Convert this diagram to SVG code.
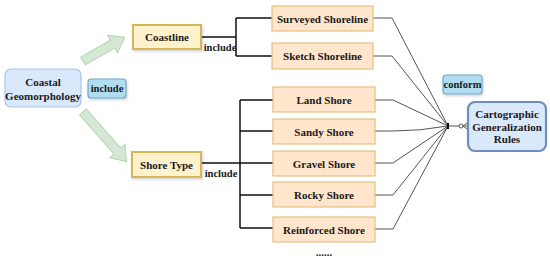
<svg xmlns="http://www.w3.org/2000/svg" width="550" height="261" viewBox="0 0 550 261" font-family="'Liberation Serif', 'DejaVu Serif', serif">
<defs>
<style>
text{font-family:'Liberation Serif','DejaVu Serif',serif;font-weight:bold;fill:#1a1a1a;text-anchor:middle;dominant-baseline:central;font-size:11px}
.lbl{font-size:10.5px}
.cat{fill:#fff2cc;stroke:#d6b656;stroke-width:2}
.item{fill:#ffe6cc;stroke:#e6c080;stroke-width:1.2}
.blue{fill:#dae8fc;stroke:#a9c4e8;stroke-width:1.2}
.tag{fill:#b1ddf0;stroke:#6fa8c8;stroke-width:1.2}
.rules{fill:#dae8fc;stroke:#6c8ebf;stroke-width:2.2}
.br{fill:none;stroke:#111;stroke-width:1.5}
.cn{fill:none;stroke:#555;stroke-width:1}
.arr{fill:#d5e8d4;stroke:#b5d3b0;stroke-width:1}
</style>
<filter id="sh" x="-20%" y="-20%" width="140%" height="150%">
<feDropShadow dx="1" dy="1.5" stdDeviation="1" flood-color="#000" flood-opacity="0.18"/>
</filter>
</defs>

<g id="arrows">
<polygon class="arr" transform="translate(83,61) rotate(-29.7)" points="0,-4.5 34,-4.5 34,-10 48,0 34,10 34,4.5 0,4.5"/>
<polygon class="arr" transform="translate(83,112) rotate(48.7)" points="0,-4.5 52,-4.5 52,-10 66,0 52,10 52,4.5 0,4.5"/>
</g>

<g id="connectors">
<path class="br" d="M201,37 H236 M236,18 V56 M236,18 H272 M236,56 H272"/>
<path class="br" d="M201,163 H240 M240,100 V228 M240,100 H273 M240,131 H273 M240,163 H273 M240,195 H273 M240,228 H273"/>
<path class="cn" d="M373,18 H392 L448,126 M373,56 H392 L448,126 M375,100 H393 L448,126 M375,131 H393 Q420,131 448,126 M375,163 H393 L448,126 M375,195 H393 L448,126 M375,229 H393 L448,126"/>
<path class="cn" d="M448,126 H468"/>
<line x1="448" y1="123" x2="448" y2="129" stroke="#111" stroke-width="2"/>
<circle cx="461" cy="126" r="2" fill="#fff" stroke="#555" stroke-width="1"/>
<path class="cn" d="M463,126 L468,122.5 M463,126 L468,129.5"/>
<text class="lbl" x="220" y="47">include</text>
<text class="lbl" x="221" y="173">include</text>
</g>

<g id="coastal-geomorphology">
<rect class="blue" x="5" y="69" width="76" height="38" rx="6"/>
<text x="43" y="82">Coastal</text>
<text x="43" y="95.5">Geomorphology</text>
</g>
<g id="include-label">
<rect class="tag" x="88" y="79" width="38" height="19" rx="3" filter="url(#sh)"/>
<text class="lbl" x="107" y="88.5">include</text>
</g>
<g id="coastline">
<rect class="cat" x="133" y="25" width="68" height="24" filter="url(#sh)"/>
<text x="167" y="37">Coastline</text>
</g>
<g id="shore-type">
<rect class="cat" x="132" y="152" width="69" height="25" filter="url(#sh)"/>
<text x="166.5" y="164.5">Shore Type</text>
</g>
<g id="surveyed-shoreline">
<rect class="item" x="272" y="6" width="101" height="25"/>
<text x="322.5" y="18.5">Surveyed Shoreline</text>
</g>
<g id="sketch-shoreline">
<rect class="item" x="272" y="43" width="101" height="26"/>
<text x="322.5" y="56">Sketch Shoreline</text>
</g>
<g id="land-shore">
<rect class="item" x="273" y="87" width="102" height="25"/>
<text x="324" y="99.5">Land Shore</text>
</g>
<g id="sandy-shore">
<rect class="item" x="273" y="119" width="102" height="25"/>
<text x="324" y="131.5">Sandy Shore</text>
</g>
<g id="gravel-shore">
<rect class="item" x="273" y="151" width="102" height="25"/>
<text x="324" y="163.5">Gravel Shore</text>
</g>
<g id="rocky-shore">
<rect class="item" x="273" y="182" width="102" height="25"/>
<text x="324" y="194.5">Rocky Shore</text>
</g>
<g id="reinforced-shore">
<rect class="item" x="273" y="217" width="102" height="25"/>
<text x="324" y="229.5">Reinforced Shore</text>
</g>
<g id="ellipsis">
<text x="324" y="252">......</text>
</g>
<g id="conform-label">
<rect class="tag" x="443" y="75" width="39" height="19" rx="3" filter="url(#sh)"/>
<text class="lbl" x="462.5" y="84.5">conform</text>
</g>
<g id="cartographic-generalization-rules">
<rect class="rules" x="468" y="102" width="78" height="49" rx="7"/>
<text x="507" y="114">Cartographic</text>
<text x="507" y="126.5">Generalization</text>
<text x="507" y="139">Rules</text>
</g>
</svg>
